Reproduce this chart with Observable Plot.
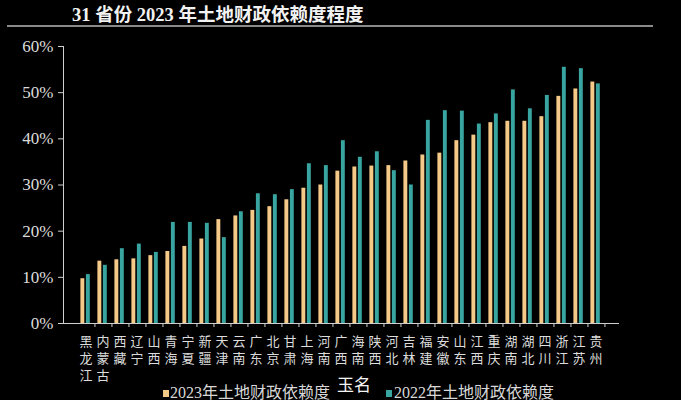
<!DOCTYPE html>
<html>
<head>
<meta charset="utf-8">
<script src="https://cdn.jsdelivr.net/npm/d3@7"></script>
<script src="https://cdn.jsdelivr.net/npm/@observablehq/plot@0.6"></script>
<style>
  html, body { margin: 0; padding: 0; background: #000; }
  #wrap { position: relative; width: 681px; height: 400px; background: #000; overflow: hidden;
          font-family: "Liberation Serif", "Noto Sans CJK SC", serif; }
  #title { position: relative; height: 30px; }
  #title .t { position: absolute; left: 72px; top: 0px; color: #f2f2f2; font-weight: bold; font-size: 18.5px;
              font-family: "Liberation Serif", "Noto Sans CJK SC", serif; white-space: nowrap; }
  #title .line { position: absolute; left: 7px; top: 25px; width: 646px; height: 1.5px; background: #8a8a8a; }
  #legend { position: relative; height: 22px; }
  .sw { position: absolute; width: 6px; height: 7px; top: 12px; }
  .lt { position: absolute; top: 5px; color: #d8d8d8; font-size: 16px; white-space: nowrap; line-height: 20px; }
  #wm { position: absolute; left: 337px; top: 374px; color: #f4f4f4; font-size: 17px;
        font-family: "Noto Sans CJK SC", sans-serif; line-height: 20px; }
</style>
</head>
<body>
<div id="wrap">
  <div id="title"><div class="t">31 省份 2023 年土地财政依赖度程度</div><div class="line"></div></div>
  <div id="chart"></div>
  <div id="legend">
    <div class="sw" style="left:163px;background:#f5c987"></div>
    <div class="lt" style="left:170px">2023年土地财政依赖度</div>
    <div class="sw" style="left:386px;background:#38a5a0"></div>
    <div class="lt" style="left:394px">2022年土地财政依赖度</div>
  </div>
  <div id="wm">玉名</div>
</div>
<script>
const provinces = ["黑龙江","内蒙古","西藏","辽宁","山西","青海","宁夏","新疆","天津","云南","广东","北京","甘肃","上海","河南","广西","海南","陕西","河北","吉林","福建","安徽","山东","江西","重庆","湖南","湖北","四川","浙江","江苏","贵州"];
const v2023 = [9.7,13.5,13.8,14.0,14.7,15.6,16.7,18.3,22.5,23.3,24.5,25.3,26.8,29.3,30.0,33.0,33.9,34.1,34.2,35.2,36.5,36.9,39.6,40.8,43.5,43.8,43.8,44.8,49.2,50.8,52.3];
const v2022 = [10.6,12.6,16.2,17.2,15.4,21.9,21.9,21.7,18.6,24.2,28.1,27.9,29.0,34.6,34.2,39.6,36.0,37.2,33.1,30.0,44.0,46.1,46.0,43.2,45.4,50.6,46.5,49.4,55.5,55.2,51.9];
const yTicks = [0, 10, 20, 30, 40, 50, 60];
const seriesNames = ["2023年土地财政依赖度", "2022年土地财政依赖度"];
const colors = ["#f5c987", "#38a5a0"];

const rows = provinces.map((p, i) => ({p, v23: v2023[i], v22: v2022[i]}));

const W = 681, mL = 63, mR = 63;
const bw = (W - mL - mR) / provinces.length;
const barW = 4.8, gap = 0.7, off = 3.4;

const chart = Plot.plot({
  width: W,
  height: 348,
  marginTop: 16,
  marginBottom: 55,
  marginLeft: mL,
  marginRight: mR,
  style: {background: "#000", color: "#dcdcdc", fontFamily: "'Liberation Serif', 'Noto Sans CJK SC', serif", overflow: "visible"},
  x: {domain: provinces, padding: 0, axis: null, label: null},
  y: {domain: [0, 60], axis: null, label: null},
  marks: [
    Plot.barY(rows, {x: "p", y: "v23", fill: colors[0], insetLeft: off, insetRight: bw - off - barW, title: d => seriesNames[0]}),
    Plot.barY(rows, {x: "p", y: "v22", fill: colors[1], insetLeft: off + barW + gap, insetRight: bw - off - 2 * barW - gap, title: d => seriesNames[1]}),
    Plot.axisY({ticks: yTicks, tickFormat: d => d + "%", tickSize: 5, tickPadding: 5, stroke: "#cfcfcf", fontSize: 17, fill: "#dcdcdc", label: null}),
    Plot.frame({anchor: "left", stroke: "#cfcfcf"}),
    Plot.frame({anchor: "bottom", stroke: "#cfcfcf"}),
    Plot.axisX({tickSize: 4, dx: bw / 2, text: null, stroke: "#cfcfcf", label: null}),
    Plot.axisX({tickSize: 0, tickPadding: 10, tickFormat: d => d.split("").join("\n"), lineHeight: 1.33, fontSize: 13, fill: "#dcdcdc", fontFamily: "'Noto Sans CJK SC', sans-serif", label: null})
  ]
});
document.getElementById("chart").appendChild(chart);
</script>
</body>
</html>
